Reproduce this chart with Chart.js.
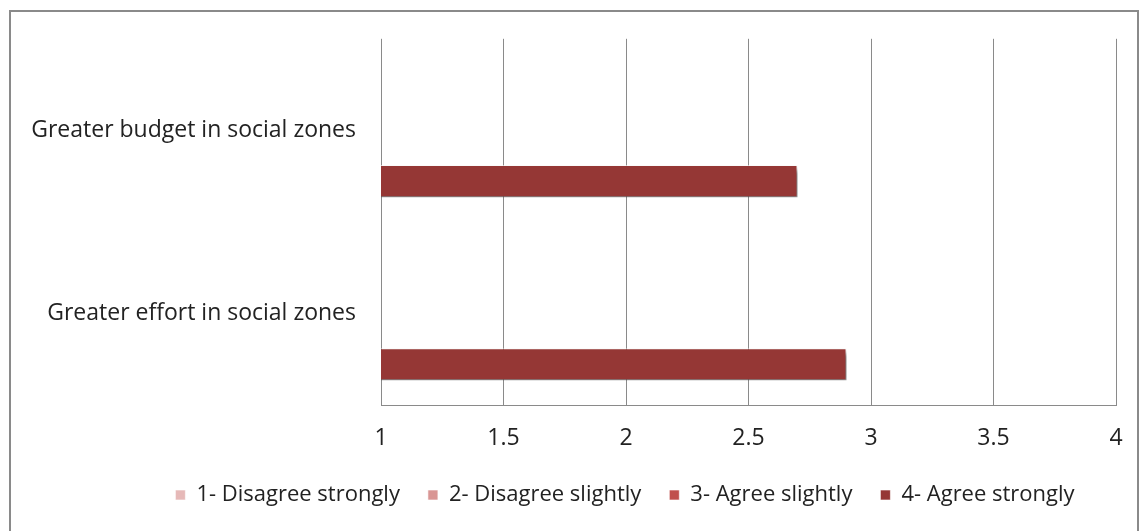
<!DOCTYPE html>
<html>
<head>
<title>Social zones chart</title>
<script src="https://cdn.jsdelivr.net/npm/chart.js@4.4.1/dist/chart.umd.min.js"></script>
<style>
body { margin:0; overflow:hidden; background:#fff; }
#frame { position:absolute; left:9px; top:10px; width:1126px; height:530px; border:2px solid #8a8a8a; }
#wrap { position:absolute; left:0; top:0; width:1139px; height:520px; }
</style>
</head>
<body>
<div id="frame"></div>
<div id="wrap"><canvas id="myChart" width="1139" height="520"></canvas></div>

<script>
// categories and series
var categories = ['Greater budget in social zones', 'Greater effort in social zones'];
var seriesNames = ['1- Disagree strongly', '2- Disagree slightly', '3- Agree slightly', '4- Agree strongly'];
var seriesColors = ['#e6b9b8', '#d99694', '#c0504d', '#953735'];
var disagreeStrongly = [null, null];
var disagreeSlightly = [null, null];
var agreeSlightly = [null, null];
var agreeStrongly = [2.7, 2.9];
var xTicks = [1, 1.5, 2, 2.5, 3, 3.5, 4];

var seriesValues = [disagreeStrongly, disagreeSlightly, agreeSlightly, agreeStrongly];
var font = '"Open Sans", "Noto Sans", sans-serif';
var fontSize = 23;

var datasets = seriesNames.map(function (name, i) {
    return {
        label: name,
        data: seriesValues[i],
        backgroundColor: seriesColors[i],
        borderColor: 'rgba(255,255,255,0.6)',
        borderWidth: 1,
        categoryPercentage: 0.74,
        barPercentage: 0.95
    };
});

// drop shadow under the bars
var barShadow = {
    id: 'barShadow',
    beforeDatasetsDraw: function (chart) {
        var c = chart.ctx;
        c.save();
        c.shadowColor = 'rgba(0,0,0,0.55)';
        c.shadowBlur = 5;
        c.shadowOffsetX = 3;
        c.shadowOffsetY = 4;
    },
    afterDatasetsDraw: function (chart) {
        chart.ctx.restore();
    }
};

// the legend sits a bit right of the canvas centre in the original
var legendShift = {
    id: 'legendShift',
    afterLayout: function (chart) {
        chart.legend.left = 134;
    }
};

var ctx = document.getElementById('myChart').getContext('2d');
var chart = new Chart(ctx, {
    type: 'bar',
    data: { labels: categories, datasets: datasets },
    plugins: [barShadow, legendShift],
    options: {
        indexAxis: 'y',
        responsive: false,
        animation: false,
        layout: { padding: { left: 0, right: 23, top: 38, bottom: 4 } },
        plugins: {
            tooltip: { enabled: false },
            legend: {
                position: 'bottom',
                labels: {
                    boxWidth: 10,
                    boxHeight: 10,
                    padding: 28,
                    color: '#222',
                    font: { family: font, size: 22 }
                }
            }
        },
        scales: {
            x: {
                min: 1,
                max: 4,
                afterBuildTicks: function (scale) {
                    scale.ticks = xTicks.map(function (v) { return { value: v }; });
                },
                afterFit: function (scale) {
                    scale.height = 51;
                    scale.paddingLeft = 0;
                    scale.paddingRight = 0;
                },
                grid: { color: '#8a8a8a', lineWidth: 1, drawTicks: false },
                border: { color: '#8a8a8a', width: 1 },
                ticks: {
                    padding: 20,
                    color: '#222',
                    font: { family: font, size: fontSize },
                    callback: function (v) { return String(v); }
                }
            },
            y: {
                afterFit: function (scale) { scale.width = 381; },
                grid: { display: false, drawTicks: false },
                border: { display: false },
                ticks: {
                    padding: 25,
                    color: '#222',
                    font: { family: font, size: fontSize }
                }
            }
        }
    }
});
</script>
</body>
</html>
